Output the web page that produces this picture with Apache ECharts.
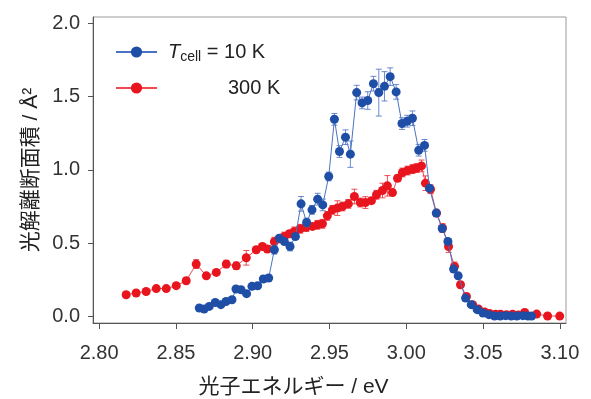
<!DOCTYPE html>
<html>
<head>
<meta charset="utf-8">
<script src="https://cdn.jsdelivr.net/npm/echarts@6/dist/echarts.min.js"></script>
<style>
  html, body { margin: 0; padding: 0; background: #fff; }
  #chart { width: 591px; height: 399px; }
</style>
</head>
<body>
<div id="chart"></div>
<script>
// T_cell = 10 K
const cold_energy = [2.8652, 2.8684, 2.8717, 2.8756, 2.8793, 2.8826, 2.8865, 2.8891, 2.8924, 2.8960,
  2.8995, 2.9032, 2.9069, 2.9104, 2.9141, 2.9173, 2.9206, 2.9243, 2.9278, 2.9315,
  2.9351, 2.9386, 2.9423, 2.9456, 2.9495, 2.9532, 2.9565, 2.9604, 2.9636, 2.9677,
  2.9712, 2.9749, 2.9786, 2.9821, 2.9858, 2.9895, 2.9934, 2.9972, 3.0006, 3.0040,
  3.0081, 3.0119, 3.0151, 3.0195, 3.0234, 3.0271, 3.0308, 3.0338, 3.0386, 3.0423,
  3.0462, 3.0499, 3.0538, 3.0575, 3.0612, 3.0647, 3.0683, 3.0720, 3.0759, 3.0792, 3.0816]
const cold_value = [0.057, 0.050, 0.068, 0.095, 0.080, 0.102, 0.114, 0.187, 0.182, 0.155,
  0.205, 0.209, 0.255, 0.262, 0.455, 0.534, 0.511, 0.477, 0.545, 0.768,
  0.641, 0.727, 0.800, 0.761, 0.955, 1.345, 1.125, 1.223, 1.107, 1.527,
  1.457, 1.473, 1.588, 1.527, 1.570, 1.636, 1.532, 1.316, 1.332, 1.352,
  1.134, 1.167, 0.875, 0.705, 0.600, 0.511, 0.323, 0.277, 0.125, 0.080,
  0.046, 0.023, 0.012, 0.003, 0.002, 0.005, 0.002, 0.002, 0.005, 0.002, 0.002]
const cold_error = [0.01, 0.01, 0.01, 0.01, 0.01, 0.01, 0.01, 0.01, 0.01, 0.01,
  0.015, 0.015, 0.02, 0.02, 0.03, 0.02, 0.02, 0.03, 0.02, 0.05,
  0.03, 0.03, 0.04, 0.04, 0.03, 0.04, 0.04, 0.05, 0.09, 0.05,
  0.04, 0.06, 0.05, 0.16, 0.10, 0.06, 0.05, 0.04, 0.04, 0.05,
  0.04, 0.04, 0.02, 0.02, 0.02, 0.02, 0.02, 0.02, 0.01, 0.01,
  0.01, 0.01, 0.01, 0.01, 0.01, 0.01, 0.01, 0.01, 0.01, 0.01, 0.01]

// 300 K
const warm_energy = [2.8176, 2.8241, 2.8306, 2.8372, 2.8437, 2.8502, 2.8567, 2.8632, 2.8698, 2.8763,
  2.8828, 2.8893, 2.8958, 2.9023, 2.9063, 2.9095, 2.9141, 2.9173, 2.9206, 2.9239,
  2.9271, 2.9310, 2.9349, 2.9389, 2.9421, 2.9454, 2.9486, 2.9519, 2.9551, 2.9584,
  2.9623, 2.9662, 2.9701, 2.9734, 2.9773, 2.9806, 2.9845, 2.9877, 2.9910, 2.9943,
  2.9975, 3.0008, 3.0040, 3.0067, 3.0099, 3.0125, 3.0158, 3.0197, 3.0236, 3.0275,
  3.0314, 3.0353, 3.0392, 3.0432, 3.0471, 3.0510, 3.0542, 3.0582, 3.0614, 3.0653,
  3.0692, 3.0731, 3.0771, 3.0849, 3.0920, 3.0999]
const warm_value = [0.148, 0.160, 0.170, 0.190, 0.190, 0.210, 0.243, 0.357, 0.277, 0.300,
  0.357, 0.345, 0.400, 0.455, 0.477, 0.460, 0.510, 0.530, 0.545, 0.564,
  0.580, 0.598, 0.609, 0.614, 0.625, 0.632, 0.686, 0.727, 0.739, 0.750,
  0.768, 0.818, 0.777, 0.777, 0.790, 0.830, 0.859, 0.891, 0.845, 0.943,
  0.982, 0.995, 1.005, 1.012, 1.027, 0.909, 0.868, 0.705, 0.603, 0.477,
  0.341, 0.216, 0.136, 0.080, 0.050, 0.030, 0.020, 0.015, 0.015, 0.012,
  0.015, 0.010, 0.027, 0.016, 0.003, 0.002]
const warm_error = [0.01, 0.01, 0.01, 0.01, 0.01, 0.01, 0.02, 0.03, 0.015, 0.01,
  0.025, 0.025, 0.05, 0.02, 0.02, 0.02, 0.03, 0.02, 0.03, 0.02,
  0.03, 0.03, 0.03, 0.02, 0.03, 0.03, 0.03, 0.03, 0.05, 0.03,
  0.03, 0.05, 0.03, 0.04, 0.02, 0.03, 0.05, 0.07, 0.02, 0.02,
  0.03, 0.03, 0.03, 0.03, 0.04, 0.05, 0.03, 0.02, 0.03, 0.04,
  0.03, 0.02, 0.01, 0.01, 0.01, 0.01, 0.01, 0.01, 0.01, 0.01,
  0.01, 0.01, 0.01, 0.01, 0.01, 0.01]

const x_ticks = [2.80, 2.85, 2.90, 2.95, 3.00, 3.05, 3.10]
const y_ticks = [0.0, 0.5, 1.0, 1.5, 2.0]

const blue = '#1f4ea6'
const red = '#e8151e'
const fontFamily = '"Liberation Sans", Arial, "Noto Sans CJK JP", sans-serif'

const points = (xs, ys) => xs.map((x, i) => [x, ys[i]])
const bars = (xs, ys, es) => xs.map((x, i) => [x, ys[i] - es[i], ys[i] + es[i]])

const errorBars = (color) => (params, api) => {
  const lo = api.coord([api.value(0), api.value(1)])
  const hi = api.coord([api.value(0), api.value(2)])
  const w = 3
  const style = { stroke: color, lineWidth: 1 }
  return {
    type: 'group',
    children: [
      { type: 'line', shape: { x1: lo[0], y1: lo[1], x2: hi[0], y2: hi[1] }, style },
      { type: 'line', shape: { x1: lo[0] - w, y1: lo[1], x2: lo[0] + w, y2: lo[1] }, style },
      { type: 'line', shape: { x1: hi[0] - w, y1: hi[1], x2: hi[0] + w, y2: hi[1] }, style }
    ]
  }
}

const chart = echarts.init(document.getElementById('chart'))
chart.setOption({
  animation: false,
  textStyle: { fontFamily },
  grid: {
    left: 93, right: 25, top: 17, bottom: 76,
    outerBoundsMode: 'none',
    show: true, borderColor: '#9a9a9a', borderWidth: 1
  },
  legend: {
    orient: 'vertical',
    left: 110, top: 37,
    itemWidth: 41, itemHeight: 14, itemGap: 14,
    data: ['10K', '300K'],
    formatter: (name) => name === '10K' ? '{gap|}{it|T}{sub|cell}{txt| = 10 K}' : '{gap|}{pad|}{txt|300 K}',
    textStyle: {
      color: '#222',
      fontFamily,
      rich: {
        gap: { width: 6 },
        it: { fontSize: 20, fontStyle: 'italic', color: '#222', fontFamily },
        sub: { fontSize: 14, color: '#222', verticalAlign: 'bottom', padding: [10, 0, 0, 0], fontFamily },
        txt: { fontSize: 20, color: '#222', fontFamily },
        pad: { width: 60 }
      }
    }
  },
  xAxis: {
    type: 'value',
    min: 2.796, max: 3.104,
    name: '光子エネルギー / eV',
    nameLocation: 'middle',
    nameGap: 54,
    nameTextStyle: { fontSize: 21, color: '#222', padding: [0, 72, 0, 0], fontFamily },
    splitLine: { show: false },
    axisLine: { onZero: false, lineStyle: { color: '#555' } },
    axisTick: { customValues: x_ticks, length: 6, lineStyle: { color: '#555' } },
    axisLabel: {
      customValues: x_ticks,
      formatter: (v) => v.toFixed(2),
      fontSize: 20, color: '#333', margin: 20
    }
  },
  yAxis: {
    type: 'value',
    min: -0.045, max: 2.043,
    name: '光解離断面積 / Å²',
    nameLocation: 'middle',
    nameGap: 51,
    nameRotate: 90,
    nameTextStyle: { fontSize: 21, color: '#222', fontFamily },
    splitLine: { show: false },
    axisLine: { onZero: false, lineStyle: { color: '#555' } },
    axisTick: { customValues: y_ticks, length: 5, lineStyle: { color: '#555' } },
    axisLabel: {
      customValues: y_ticks,
      formatter: (v) => v.toFixed(1),
      fontSize: 20, color: '#333', margin: 13
    }
  },
  series: [
    {
      type: 'custom',
      renderItem: errorBars('rgba(232,21,30,0.75)'),
      encode: { x: 0, y: [1, 2] },
      data: bars(warm_energy, warm_value, warm_error),
      z: 1
    },
    {
      name: '300K',
      type: 'line',
      data: points(warm_energy, warm_value),
      symbol: 'circle',
      symbolSize: 9,
      itemStyle: { color: red },
      lineStyle: { color: '#ee4a50', width: 1 },
      z: 2
    },
    {
      type: 'custom',
      renderItem: errorBars('rgba(60,100,190,0.75)'),
      encode: { x: 0, y: [1, 2] },
      data: bars(cold_energy, cold_value, cold_error),
      z: 3
    },
    {
      name: '10K',
      type: 'line',
      data: points(cold_energy, cold_value),
      symbol: 'circle',
      symbolSize: 9,
      itemStyle: { color: blue },
      lineStyle: { color: '#4a72c4', width: 1 },
      z: 4
    }
  ]
})
</script>
</body>
</html>
